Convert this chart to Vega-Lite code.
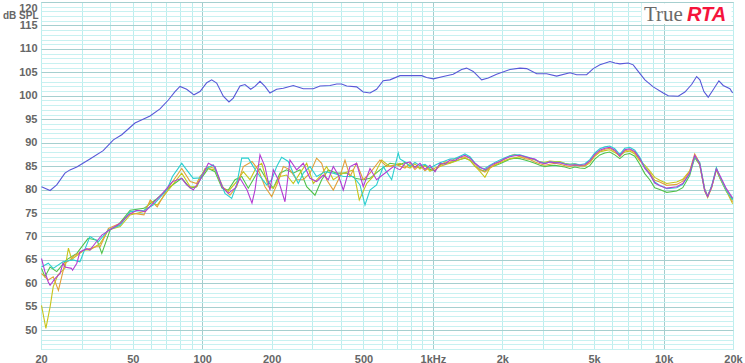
{
  "$schema": "https://vega.github.io/schema/vega-lite/v6.json",
  "width": 692,
  "height": 347,
  "autosize": "none",
  "padding": {"left": 41, "top": 2, "right": 12, "bottom": 14},
  "background": "white",
  "config": {
    "view": {"stroke": "#9fcaca", "strokeWidth": 1}
  },
  "datasets": {
    "blue": [
      {"f":20.1,"d":80.6},{"f":21.9,"d":79.8},{"f":23.4,"d":81.0},{"f":25.4,"d":83.5},{"f":26.7,"d":84.2},{"f":28.6,"d":84.8},{"f":32.6,"d":86.5},{"f":37.2,"d":88.3},{"f":41.2,"d":90.6},{"f":44.8,"d":91.7},{"f":51.1,"d":94.2},{"f":59.4,"d":95.7},{"f":65.6,"d":97.2},{"f":71.3,"d":99.1},{"f":76.2,"d":100.9},{"f":80.1,"d":102.0},{"f":85.6,"d":101.4},{"f":92.1,"d":100.2},{"f":97.8,"d":100.9},{"f":104.6,"d":102.8},{"f":109.9,"d":103.4},{"f":115.5,"d":102.7},{"f":123.4,"d":99.9},{"f":130.6,"d":98.7},{"f":136.3,"d":99.5},{"f":145.8,"d":102.1},{"f":153.2,"d":102.4},{"f":162.2,"d":101.4},{"f":169.3,"d":102.0},{"f":178.0,"d":103.1},{"f":187.1,"d":102.0},{"f":196.6,"d":100.6},{"f":210.2,"d":101.4},{"f":224.6,"d":101.6},{"f":248.2,"d":102.2},{"f":274.2,"d":101.5},{"f":303,"d":101.5},{"f":324,"d":102.1},{"f":358,"d":102.2},{"f":383,"d":102.5},{"f":402,"d":102.5},{"f":423,"d":102.1},{"f":467,"d":101.9},{"f":499,"d":100.8},{"f":534,"d":100.6},{"f":570,"d":101.4},{"f":609,"d":103.2},{"f":651,"d":103.4},{"f":720,"d":104.3},{"f":822,"d":104.3},{"f":894,"d":104.3},{"f":939,"d":103.9},{"f":1004,"d":103.6},{"f":1109,"d":104.1},{"f":1225,"d":104.6},{"f":1332,"d":105.6},{"f":1400,"d":105.9},{"f":1496,"d":105.2},{"f":1627,"d":103.4},{"f":1738,"d":103.8},{"f":1889,"d":104.6},{"f":2158,"d":105.6},{"f":2384,"d":105.9},{"f":2550,"d":105.8},{"f":2817,"d":104.7},{"f":3112,"d":104.7},{"f":3440,"d":104.2},{"f":3927,"d":104.9},{"f":4199,"d":104.5},{"f":4640,"d":104.5},{"f":4956,"d":105.8},{"f":5300,"d":106.6},{"f":5855,"d":107.3},{"f":6155,"d":107.0},{"f":6469,"d":106.8},{"f":7028,"d":107.0},{"f":7386,"d":106.6},{"f":7764,"d":105.2},{"f":8302,"d":103.4},{"f":9021,"d":101.9},{"f":9966,"d":100.6},{"f":10476,"d":100.0},{"f":11576,"d":99.9},{"f":12375,"d":100.8},{"f":13232,"d":102.4},{"f":13910,"d":104.1},{"f":14373,"d":103.4},{"f":14958,"d":100.9},{"f":15614,"d":99.7},{"f":16412,"d":101.3},{"f":17372,"d":103.2},{"f":18135,"d":102.2},{"f":19395,"d":101.5},{"f":19922,"d":100.6}
    ],
    "lo": [
      {"s":"G","f":20.1,"d":63.2},{"s":"G","f":20.8,"d":61.4},{"s":"G","f":21.9,"d":63.5},{"s":"G","f":23.4,"d":62.5},{"s":"G","f":25.8,"d":65.0},{"s":"G","f":28.6,"d":66.4},{"s":"G","f":32.0,"d":69.6},{"s":"G","f":35.0,"d":69.2},{"s":"G","f":36.7,"d":66.4},{"s":"G","f":39.9,"d":71.4},{"s":"G","f":43.2,"d":72.4},{"s":"G","f":48.7,"d":75.6},{"s":"G","f":55.9,"d":76.0},{"s":"G","f":63.8,"d":78.1},{"s":"G","f":72.6,"d":80.6},{"s":"G","f":81.5,"d":82.4},{"s":"G","f":88.7,"d":80.3},{"s":"G","f":94.6,"d":80.6},{"s":"G","f":97.8,"d":82.1},{"s":"G","f":102.8,"d":83.5},{"s":"G","f":106.3,"d":84.5},{"s":"G","f":113.6,"d":83.8},{"s":"G","f":121.8,"d":80.3},{"s":"G","f":129.7,"d":79.9},{"s":"G","f":138.7,"d":82.1},{"s":"G","f":148.3,"d":82.8},{"s":"G","f":158.4,"d":80.3},{"s":"G","f":169.3,"d":82.8},{"s":"G","f":178.0,"d":84.5},{"s":"G","f":190.3,"d":82.1},{"s":"G","f":203.3,"d":80.3},{"s":"G","f":217.3,"d":83.5},{"s":"G","f":232.2,"d":84.2},{"s":"G","f":248.2,"d":83.5},{"s":"G","f":265.3,"d":84.2},{"s":"G","f":283.7,"d":80.6},{"s":"G","f":308.2,"d":78.8},{"s":"G","f":329.5,"d":82.1},{"s":"G","f":352.0,"d":84.2},{"s":"G","f":383.0,"d":83.5},{"s":"G","f":422.8,"d":83.5},{"s":"G","f":459.4,"d":82.4},{"s":"G","f":499,"d":82.1},{"s":"G","f":533.7,"d":82.4},{"s":"G","f":589.7,"d":84.2},{"s":"G","f":651.6,"d":85.6},{"s":"G","f":720,"d":85.3},
      {"s":"Y","f":20.1,"d":55.3},{"s":"Y","f":21.0,"d":50.4},{"s":"Y","f":21.9,"d":55.0},{"s":"Y","f":22.3,"d":57.5},{"s":"Y","f":22.6,"d":59.3},{"s":"Y","f":23.7,"d":61.8},{"s":"Y","f":25.4,"d":63.2},{"s":"Y","f":26.3,"d":67.5},{"s":"Y","f":27.2,"d":65.0},{"s":"Y","f":27.5,"d":65.3},{"s":"Y","f":30.8,"d":67.1},{"s":"Y","f":32.6,"d":67.1},{"s":"Y","f":36.1,"d":68.5},{"s":"Y","f":39.2,"d":71.4},{"s":"Y","f":44.1,"d":72.1},{"s":"Y","f":48.7,"d":74.6},{"s":"Y","f":55.9,"d":75.3},{"s":"Y","f":59.5,"d":77.4},{"s":"Y","f":63.8,"d":76.7},{"s":"Y","f":71.3,"d":79.9},{"s":"Y","f":81.5,"d":83.5},{"s":"Y","f":88.7,"d":80.6},{"s":"Y","f":94.6,"d":80.6},{"s":"Y","f":97.8,"d":82.4},{"s":"Y","f":102.8,"d":84.5},{"s":"Y","f":106.3,"d":84.5},{"s":"Y","f":113.6,"d":84.2},{"s":"Y","f":121.8,"d":80.6},{"s":"Y","f":129.7,"d":79.6},{"s":"Y","f":141.0,"d":81.7},{"s":"Y","f":150.7,"d":83.8},{"s":"Y","f":161.1,"d":82.1},{"s":"Y","f":172.2,"d":84.9},{"s":"Y","f":181.1,"d":85.6},{"s":"Y","f":193.4,"d":80.6},{"s":"Y","f":203.3,"d":80.3},{"s":"Y","f":217.3,"d":82.8},{"s":"Y","f":232.2,"d":83.1},{"s":"Y","f":248.2,"d":81.3},{"s":"Y","f":265.3,"d":83.5},{"s":"Y","f":283.7,"d":85.6},{"s":"Y","f":303.2,"d":81.3},{"s":"Y","f":324.0,"d":82.8},{"s":"Y","f":346.2,"d":84.9},{"s":"Y","f":370.0,"d":82.1},{"s":"Y","f":408.8,"d":83.5},{"s":"Y","f":451.7,"d":84.2},{"s":"Y","f":479.6,"d":77.8},{"s":"Y","f":516.5,"d":81.3},{"s":"Y","f":551.7,"d":82.8},{"s":"Y","f":599.8,"d":86.3},{"s":"Y","f":651.6,"d":84.9},{"s":"Y","f":720,"d":85.6},
      {"s":"O","f":20.1,"d":62.1},{"s":"O","f":21.5,"d":60.7},{"s":"O","f":22.6,"d":61.4},{"s":"O","f":23.8,"d":58.5},{"s":"O","f":25.4,"d":64.3},{"s":"O","f":26.7,"d":65.0},{"s":"O","f":28.1,"d":66.0},{"s":"O","f":30.8,"d":67.1},{"s":"O","f":34.8,"d":67.8},{"s":"O","f":36.1,"d":67.8},{"s":"O","f":39.2,"d":71.7},{"s":"O","f":44.1,"d":72.8},{"s":"O","f":48.7,"d":75.0},{"s":"O","f":55.9,"d":74.6},{"s":"O","f":59.5,"d":77.8},{"s":"O","f":63.8,"d":76.3},{"s":"O","f":70.2,"d":79.9},{"s":"O","f":81.5,"d":84.5},{"s":"O","f":88.7,"d":81.7},{"s":"O","f":94.6,"d":81.3},{"s":"O","f":97.8,"d":82.8},{"s":"O","f":102.8,"d":83.8},{"s":"O","f":106.3,"d":84.9},{"s":"O","f":113.6,"d":84.5},{"s":"O","f":123.6,"d":80.3},{"s":"O","f":131.9,"d":78.8},{"s":"O","f":141.0,"d":80.6},{"s":"O","f":150.7,"d":84.9},{"s":"O","f":164.3,"d":86.0},{"s":"O","f":175.1,"d":84.2},{"s":"O","f":187.1,"d":80.6},{"s":"O","f":200.0,"d":78.5},{"s":"O","f":213.6,"d":81.7},{"s":"O","f":224.7,"d":84.9},{"s":"O","f":240.1,"d":84.2},{"s":"O","f":256.6,"d":82.1},{"s":"O","f":274.2,"d":82.1},{"s":"O","f":293.2,"d":83.5},{"s":"O","f":313.3,"d":86.7},{"s":"O","f":329.5,"d":85.6},{"s":"O","f":346.2,"d":82.1},{"s":"O","f":370.0,"d":79.9},{"s":"O","f":395.5,"d":82.8},{"s":"O","f":415.8,"d":86.3},{"s":"O","f":437.1,"d":82.8},{"s":"O","f":467,"d":85.6},{"s":"O","f":499,"d":82.1},{"s":"O","f":533.7,"d":83.5},{"s":"O","f":589.7,"d":86.3},{"s":"O","f":631,"d":84.9},{"s":"O","f":696.8,"d":85.3},{"s":"O","f":720,"d":85.0},
      {"s":"C","f":20.1,"d":63.5},{"s":"C","f":21.5,"d":64.3},{"s":"C","f":22.6,"d":63.2},{"s":"C","f":24.9,"d":64.6},{"s":"C","f":27.5,"d":65.0},{"s":"C","f":29.5,"d":64.6},{"s":"C","f":32.6,"d":70.0},{"s":"C","f":35.5,"d":68.9},{"s":"C","f":39.2,"d":71.4},{"s":"C","f":44.1,"d":72.4},{"s":"C","f":48.7,"d":75.3},{"s":"C","f":55.9,"d":75.6},{"s":"C","f":61.3,"d":76.7},{"s":"C","f":70.2,"d":79.9},{"s":"C","f":74.3,"d":82.8},{"s":"C","f":81.5,"d":85.6},{"s":"C","f":85.6,"d":84.2},{"s":"C","f":91.4,"d":82.4},{"s":"C","f":97.8,"d":82.5},{"s":"C","f":104.5,"d":84.5},{"s":"C","f":111.6,"d":85.3},{"s":"C","f":117.3,"d":82.8},{"s":"C","f":125.5,"d":79.2},{"s":"C","f":134.2,"d":78.1},{"s":"C","f":141.0,"d":81.0},{"s":"C","f":148.3,"d":86.7},{"s":"C","f":158.4,"d":86.7},{"s":"C","f":166.5,"d":84.9},{"s":"C","f":178.0,"d":82.8},{"s":"C","f":190.3,"d":81.0},{"s":"C","f":200.0,"d":82.1},{"s":"C","f":210.3,"d":84.9},{"s":"C","f":221.0,"d":86.9},{"s":"C","f":236.1,"d":86.0},{"s":"C","f":248.2,"d":83.5},{"s":"C","f":260.9,"d":81.3},{"s":"C","f":274.2,"d":83.5},{"s":"C","f":293.2,"d":84.9},{"s":"C","f":313.3,"d":82.8},{"s":"C","f":340.5,"d":83.8},{"s":"C","f":370.0,"d":83.5},{"s":"C","f":408.8,"d":82.8},{"s":"C","f":451.7,"d":82.8},{"s":"C","f":483.0,"d":81.0},{"s":"C","f":507.7,"d":76.7},{"s":"C","f":533.7,"d":79.9},{"s":"C","f":570,"d":81.0},{"s":"C","f":609,"d":84.9},{"s":"C","f":662.7,"d":82.1},{"s":"C","f":707.6,"d":87.8},{"s":"C","f":720,"d":86.5},
      {"s":"P","f":20.1,"d":65.3},{"s":"P","f":20.8,"d":62.5},{"s":"P","f":21.5,"d":60.3},{"s":"P","f":21.9,"d":59.6},{"s":"P","f":23.0,"d":61.0},{"s":"P","f":24.2,"d":62.1},{"s":"P","f":24.9,"d":64.3},{"s":"P","f":25.4,"d":63.5},{"s":"P","f":27.1,"d":63.2},{"s":"P","f":27.4,"d":62.8},{"s":"P","f":28.6,"d":64.3},{"s":"P","f":29.5,"d":66.7},{"s":"P","f":31.6,"d":67.4},{"s":"P","f":32.6,"d":67.1},{"s":"P","f":34.3,"d":68.5},{"s":"P","f":36.7,"d":70.3},{"s":"P","f":40.6,"d":71.7},{"s":"P","f":44.1,"d":72.8},{"s":"P","f":47.9,"d":74.6},{"s":"P","f":52.0,"d":75.6},{"s":"P","f":56.6,"d":75.3},{"s":"P","f":61.3,"d":77.1},{"s":"P","f":67.3,"d":79.2},{"s":"P","f":74.3,"d":81.7},{"s":"P","f":81.5,"d":82.4},{"s":"P","f":85.6,"d":81.0},{"s":"P","f":91.4,"d":79.9},{"s":"P","f":97.8,"d":82.0},{"s":"P","f":106.3,"d":85.6},{"s":"P","f":113.6,"d":84.9},{"s":"P","f":121.8,"d":80.6},{"s":"P","f":129.7,"d":79.2},{"s":"P","f":138.7,"d":80.3},{"s":"P","f":145.8,"d":82.4},{"s":"P","f":156.5,"d":79.9},{"s":"P","f":164.3,"d":77.1},{"s":"P","f":169.3,"d":79.9},{"s":"P","f":178.0,"d":87.4},{"s":"P","f":187.1,"d":84.9},{"s":"P","f":196.6,"d":79.9},{"s":"P","f":203.3,"d":84.2},{"s":"P","f":213.6,"d":82.1},{"s":"P","f":228.4,"d":77.4},{"s":"P","f":240.1,"d":86.3},{"s":"P","f":256.6,"d":84.2},{"s":"P","f":274.2,"d":85.6},{"s":"P","f":293.2,"d":82.4},{"s":"P","f":313.3,"d":81.7},{"s":"P","f":334.9,"d":83.1},{"s":"P","f":352.0,"d":82.1},{"s":"P","f":370.0,"d":84.9},{"s":"P","f":388.9,"d":83.1},{"s":"P","f":408.8,"d":79.9},{"s":"P","f":437.1,"d":84.9},{"s":"P","f":467,"d":85.6},{"s":"P","f":499,"d":80.6},{"s":"P","f":533.7,"d":84.5},{"s":"P","f":570,"d":82.1},{"s":"P","f":631,"d":83.8},{"s":"P","f":674,"d":84.9},{"s":"P","f":720,"d":84.2}
    ],
    "hi": [
      {"f":720,"G":85.3,"Y":85.6,"O":85.0,"C":86.5,"P":84.2},
      {"f":757,"G":85.8,"Y":85.0,"O":84.6,"C":85.9,"P":85.6},
      {"f":796,"G":85.0,"Y":84.6,"O":85.6,"C":85.0,"P":85.9},
      {"f":836,"G":84.9,"Y":85.5,"O":84.3,"C":85.8,"P":84.7},
      {"f":879,"G":84.6,"Y":84.4,"O":85.2,"C":85.1,"P":85.6},
      {"f":924,"G":85.2,"Y":85.1,"O":84.0,"C":85.4,"P":84.3},
      {"f":971,"G":84.3,"Y":83.9,"O":84.8,"C":84.6,"P":85.2},
      {"f":1021,"G":84.0,"Y":84.6,"O":84.1,"C":85.2,"P":83.8},
      {"f":1073,"G":85.3,"Y":84.9,"O":85.0,"C":85.7,"P":85.6},
      {"f":1128,"G":85.6,"Y":85.3,"O":85.9,"C":86.1,"P":85.4},
      {"f":1185,"G":85.7,"Y":85.6,"O":85.8,"C":86.5,"P":86.3},
      {"f":1246,"G":86.1,"Y":86.0,"O":86.6,"C":86.6,"P":86.2},
      {"f":1310,"G":86.4,"Y":86.4,"O":86.8,"C":87.1,"P":86.9},
      {"f":1377,"G":86.7,"Y":86.8,"O":87.0,"C":87.6,"P":87.3},
      {"f":1447,"G":86.3,"Y":86.2,"O":86.9,"C":87.0,"P":86.7},
      {"f":1521,"G":85.0,"Y":85.0,"O":85.4,"C":85.7,"P":85.6},
      {"f":1599,"G":84.3,"Y":83.9,"O":84.2,"C":84.6,"P":84.8},
      {"f":1681,"G":83.9,"Y":82.6,"O":83.7,"C":84.5,"P":84.2},
      {"f":1767,"G":84.8,"Y":84.6,"O":84.6,"C":85.2,"P":85.0},
      {"f":1857,"G":85.1,"Y":85.2,"O":85.4,"C":85.8,"P":85.6},
      {"f":1952,"G":85.5,"Y":85.7,"O":86.0,"C":86.3,"P":86.0},
      {"f":2052,"G":86.0,"Y":86.2,"O":86.5,"C":86.8,"P":86.6},
      {"f":2157,"G":86.5,"Y":86.6,"O":87.2,"C":87.2,"P":87.0},
      {"f":2267,"G":86.7,"Y":86.8,"O":87.5,"C":87.4,"P":87.2},
      {"f":2383,"G":86.6,"Y":87.0,"O":87.0,"C":87.4,"P":87.3},
      {"f":2505,"G":86.3,"Y":86.9,"O":86.6,"C":87.1,"P":87.0},
      {"f":2633,"G":86.0,"Y":86.6,"O":86.4,"C":86.8,"P":86.7},
      {"f":2768,"G":85.6,"Y":86.3,"O":85.9,"C":86.4,"P":86.5},
      {"f":2909,"G":85.2,"Y":85.9,"O":85.5,"C":85.9,"P":85.8},
      {"f":3058,"G":84.9,"Y":85.8,"O":85.2,"C":85.6,"P":85.5},
      {"f":3214,"G":85.1,"Y":86.1,"O":85.4,"C":85.9,"P":85.9},
      {"f":3379,"G":85.2,"Y":86.0,"O":85.6,"C":85.8,"P":85.7},
      {"f":3551,"G":85.0,"Y":86.0,"O":85.4,"C":85.8,"P":85.7},
      {"f":3733,"G":84.8,"Y":85.6,"O":85.1,"C":85.5,"P":85.4},
      {"f":3924,"G":84.5,"Y":85.4,"O":84.9,"C":85.4,"P":85.2},
      {"f":4124,"G":84.8,"Y":85.5,"O":85.2,"C":85.5,"P":85.3},
      {"f":4335,"G":84.6,"Y":85.2,"O":85.0,"C":85.3,"P":85.2},
      {"f":4557,"G":84.5,"Y":85.0,"O":85.1,"C":85.5,"P":85.3},
      {"f":4790,"G":85.1,"Y":85.7,"O":86.0,"C":86.4,"P":86.1},
      {"f":5035,"G":86.5,"Y":87.1,"O":87.3,"C":87.8,"P":87.5},
      {"f":5292,"G":87.4,"Y":88.0,"O":88.2,"C":88.7,"P":88.4},
      {"f":5563,"G":87.8,"Y":88.3,"O":88.6,"C":89.1,"P":88.8},
      {"f":5847,"G":88.0,"Y":88.5,"O":88.8,"C":89.3,"P":89.0},
      {"f":6146,"G":87.4,"Y":87.9,"O":88.2,"C":88.7,"P":88.4},
      {"f":6460,"G":86.6,"Y":87.3,"O":87.0,"C":87.5,"P":87.2},
      {"f":6790,"G":87.5,"Y":88.0,"O":88.3,"C":88.8,"P":88.5},
      {"f":7137,"G":87.7,"Y":88.2,"O":88.5,"C":89.0,"P":88.7},
      {"f":7502,"G":87.1,"Y":87.6,"O":87.9,"C":88.4,"P":88.1},
      {"f":7886,"G":85.4,"Y":86.1,"O":86.4,"C":86.9,"P":86.6},
      {"f":8289,"G":83.4,"Y":85.2,"O":84.8,"C":84.8,"P":84.5},
      {"f":8712,"G":82.1,"Y":84.0,"O":83.6,"C":83.2,"P":83.3},
      {"f":9158,"G":80.4,"Y":82.6,"O":82.0,"C":81.6,"P":81.4},
      {"f":9626,"G":80.0,"Y":82.0,"O":81.6,"C":80.9,"P":80.8},
      {"f":10321,"G":79.4,"Y":81.3,"O":80.9,"C":80.2,"P":80.3},
      {"f":11403,"G":79.7,"Y":81.6,"O":81.1,"C":80.4,"P":80.6},
      {"f":12109,"G":80.4,"Y":82.2,"O":81.8,"C":81.1,"P":81.3},
      {"f":12982,"G":83.0,"Y":84.0,"O":83.9,"C":83.4,"P":83.5},
      {"f":13646,"G":86.8,"Y":87.2,"O":87.6,"C":87.0,"P":87.3},
      {"f":14343,"G":85.3,"Y":85.3,"O":85.7,"C":85.8,"P":85.5},
      {"f":15077,"G":79.9,"Y":79.7,"O":80.2,"C":80.0,"P":79.8},
      {"f":15530,"G":78.6,"Y":78.3,"O":78.7,"C":78.6,"P":78.5},
      {"f":16165,"G":80.7,"Y":80.4,"O":80.5,"C":80.8,"P":80.6},
      {"f":16941,"G":84.2,"Y":84.5,"O":84.3,"C":84.7,"P":84.4},
      {"f":17509,"G":82.5,"Y":82.8,"O":82.6,"C":82.9,"P":83.1},
      {"f":18717,"G":79.6,"Y":79.7,"O":80.0,"C":79.8,"P":80.2},
      {"f":19932,"G":78.0,"Y":77.0,"O":77.4,"C":77.8,"P":78.2}
    ]
  },
  "resolve": {"axis": {"x": "independent", "y": "independent"}},
  "layer": [
    {
      "encoding": {
        "x": {
          "field": "f", "type": "quantitative",
          "scale": {"type": "log", "domain": [20, 20000], "nice": false},
          "axis": {
            "title": null,
            "orient": "bottom",
            "values": [20,30,40,50,60,70,80,90,100,200,300,400,500,600,700,800,900,1000,2000,3000,4000,5000,6000,7000,8000,9000,10000,20000],
            "labelExpr": "datum.value === 1000 ? '1kHz' : (datum.value === 2000 || datum.value === 5000 || datum.value === 10000 || datum.value === 20000) ? (datum.value / 1000) + 'k' : (datum.value === 20 || datum.value === 50 || datum.value === 100 || datum.value === 200 || datum.value === 500) ? '' + datum.value : ''",
            "grid": true,
            "gridColor": {"condition": {"test": "datum.value === 100 || datum.value === 1000 || datum.value === 10000", "value": "#a3cdcd"}, "value": "#bdeeee"},
            "gridWidth": 1,
            "gridOpacity": 1,
            "ticks": false,
            "domain": false,
            "labelFlush": false,
            "labelOverlap": false,
            "labelPadding": 4,
            "labelFont": "Liberation Sans",
            "labelFontWeight": "bold",
            "labelFontSize": 11,
            "labelColor": "#666666"
          }
        },
        "y": {
          "field": "d", "type": "quantitative",
          "scale": {"domain": [46, 120], "nice": false, "zero": false},
          "axis": {
            "orient": "left",
            "values": [46,47,48,49,50,51,52,53,54,55,56,57,58,59,60,61,62,63,64,65,66,67,68,69,70,71,72,73,74,75,76,77,78,79,80,81,82,83,84,85,86,87,88,89,90,91,92,93,94,95,96,97,98,99,100,101,102,103,104,105,106,107,108,109,110,111,112,113,114,115,116,117,118,119,120],
            "labelExpr": "datum.value % 5 === 0 ? datum.label : ''",
            "grid": true,
            "gridColor": {"condition": {"test": "datum.value % 5 === 0", "value": "#a6cfcf"}, "value": "#c8f1f1"},
            "gridWidth": 1,
            "gridOpacity": 1,
            "ticks": false,
            "domain": false,
            "labelFlush": true,
            "labelOverlap": false,
            "labelPadding": 4,
            "labelFont": "Liberation Sans",
            "labelFontWeight": "bold",
            "labelFontSize": 11,
            "labelColor": "#666666",
            "title": "dB SPL",
            "titleAngle": 0,
            "titleAlign": "right",
            "titleBaseline": "middle",
            "titleX": -3,
            "titleY": 13.5,
            "titleFont": "Liberation Sans",
            "titleFontWeight": "bold",
            "titleFontSize": 10,
            "titleColor": "#666666"
          }
        }
      },
      "layer": [
        {
          "data": {"name": "blue"},
          "mark": {"type": "line", "color": "#5858d8", "strokeWidth": 1.1}
        },
        {
          "data": {"name": "lo"},
          "mark": {"type": "line", "strokeWidth": 1.1},
          "encoding": {
            "color": {"field": "s", "type": "nominal", "legend": null,
              "scale": {"domain": ["G","Y","O","C","P"], "range": ["#52c24a","#c8c41c","#e3a03a","#2ccfd0","#b43cd2"]}},
            "detail": {"field": "s"}
          }
        },
        {
          "data": {"name": "hi"},
          "transform": [{"fold": ["G","Y","O","C","P"], "as": ["s","d"]}],
          "mark": {"type": "line", "strokeWidth": 1.1},
          "encoding": {
            "color": {"field": "s", "type": "nominal", "legend": null},
            "detail": {"field": "s"}
          }
        }
      ]
    },
    {
      "data": {"values": [{"logo": "TrueRTA"}]},
      "mark": {"type": "rect", "fill": "white"},
      "encoding": {
        "x": {"datum": 8034, "type": "quantitative", "axis": null},
        "x2": {"datum": 19720},
        "y": {"datum": 119.72, "type": "quantitative", "axis": null},
        "y2": {"datum": 115.3}
      }
    },
    {
      "data": {"values": [{"t": "True"}]},
      "mark": {"type": "text", "font": "Liberation Serif", "fontSize": 21, "color": "#6a6a6a", "align": "left", "baseline": "alphabetic"},
      "encoding": {
        "x": {"datum": 8221, "type": "quantitative", "axis": null},
        "y": {"datum": 115.95, "type": "quantitative", "axis": null},
        "text": {"field": "t"}
      }
    },
    {
      "data": {"values": [{"t": "RTA"}]},
      "mark": {"type": "text", "font": "Liberation Sans", "fontWeight": "bold", "fontStyle": "italic", "fontSize": 20, "color": "#f5143c", "align": "left", "baseline": "alphabetic"},
      "encoding": {
        "x": {"datum": 12624, "type": "quantitative", "axis": null},
        "y": {"datum": 115.95, "type": "quantitative", "axis": null},
        "text": {"field": "t"}
      }
    }
  ]
}
